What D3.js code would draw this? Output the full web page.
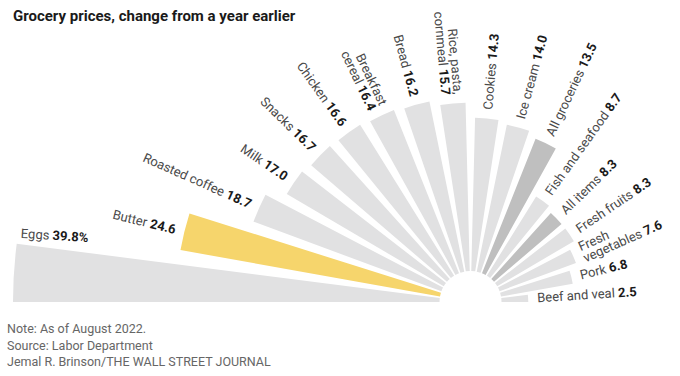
<!DOCTYPE html>
<html>
<head>
<meta charset="utf-8">
<script src="https://cdn.jsdelivr.net/npm/d3@7"></script>
<style>
  body { margin: 0; background: #fff; }
  svg { display: block; font-family: Roboto, "Noto Sans", sans-serif; }
</style>
</head>
<body>
<svg id="chart" width="680" height="376"></svg>
<script>
(function() {
  // grocery categories, ordered left -> right around the half circle
  const categories = ["Eggs", "Butter", "Roasted coffee", "Milk", "Snacks", "Chicken",
    "Breakfast\ncereal", "Bread", "Rice, pasta,\ncornmeal", "Cookies", "Ice cream",
    "All groceries", "Fish and seafood", "All items", "Fresh fruits",
    "Fresh\nvegetables", "Pork", "Beef and veal"];
  const values = [39.8, 24.6, 18.7, 17.0, 16.7, 16.6, 16.4, 16.2, 15.7, 14.3, 14.0,
    13.5, 8.7, 8.3, 8.3, 7.6, 6.8, 2.5];
  const aggregates = ["All groceries", "All items"];
  const featured = "Butter";

  const cx = 470.5, cy = 302;
  const svg = d3.select("#chart");

  const data = categories.map((c, i) => ({ name: c, value: values[i] }));

  const angle = d3.scaleBand()
    .domain(categories)
    .range([-Math.PI / 2, Math.PI / 2])
    .paddingInner(0.28)
    .paddingOuter(0);

  const radius = d3.scaleLinear()
    .domain([0, 39.8])
    .range([31, 457.5]);

  const arc = d3.arc()
    .innerRadius(radius(0))
    .outerRadius(d => radius(d.value))
    .startAngle(d => angle(d.name))
    .endAngle(d => angle(d.name) + angle.bandwidth());

  const g = svg.append("g").attr("transform", `translate(${cx},${cy})`);

  g.selectAll("path.bar")
    .data(data)
    .enter()
    .append("path")
    .attr("class", "bar")
    .attr("d", arc)
    .attr("fill", d => d.name === featured ? "#f6d56c"
      : aggregates.includes(d.name) ? "#bfbfbf" : "#e1e1e2");

  // labels run along each bar, past its end (eggs sits above its bar)
  g.selectAll("text.label")
    .data(data)
    .enter()
    .append("text")
    .attr("class", "label")
    .attr("font-size", 13)
    .attr("fill", "#4a4a4a")
    .each(function(d, i) {
      const a = angle(d.name) + angle.bandwidth() / 2;
      const left = a < 0;
      let rr = radius(d.value) + 9;
      let perp = 0;
      if (i === 0) { rr = radius(d.value) - 72; perp = 40; }
      const sx = Math.sin(a), cy0 = -Math.cos(a);
      let x = sx * rr, y = cy0 * rr;
      const rot = left ? Math.atan2(Math.cos(a), -Math.sin(a)) : Math.atan2(-Math.cos(a), Math.sin(a));
      x += Math.sin(rot) * perp;
      y += -Math.cos(rot) * perp;
      const t = d3.select(this)
        .attr("text-anchor", left ? "end" : "start")
        .attr("transform", `translate(${x},${y}) rotate(${rot * 180 / Math.PI})`);
      const lines = d.name.split("\n");
      lines.forEach((ln, k) => {
        t.append("tspan")
          .attr("x", 0)
          .attr("dy", k === 0 ? (0.35 - (lines.length - 1) * 0.47) + "em" : "0.94em")
          .text(ln);
        if (k === lines.length - 1) {
          t.append("tspan")
            .attr("font-weight", 700)
            .attr("fill", "#1a1a1a")
            .text(" " + d3.format(".1f")(d.value) + (i === 0 ? "%" : ""));
        }
      });
    });

  svg.append("text")
    .attr("x", 13)
    .attr("y", 21)
    .attr("font-size", 15)
    .attr("font-weight", 700)
    .attr("fill", "#1a1a1a")
    .text("Grocery prices, change from a year earlier");

  const notes = ["Note: As of August 2022.", "Source: Labor Department",
    "Jemal R. Brinson/THE WALL STREET JOURNAL"];
  svg.selectAll("text.note")
    .data(notes)
    .enter()
    .append("text")
    .attr("class", "note")
    .attr("x", 7)
    .attr("y", (d, i) => 333 + i * 16.5)
    .attr("font-size", 12.5)
    .attr("fill", "#666")
    .text(d => d);
})();
</script>
</body>
</html>
